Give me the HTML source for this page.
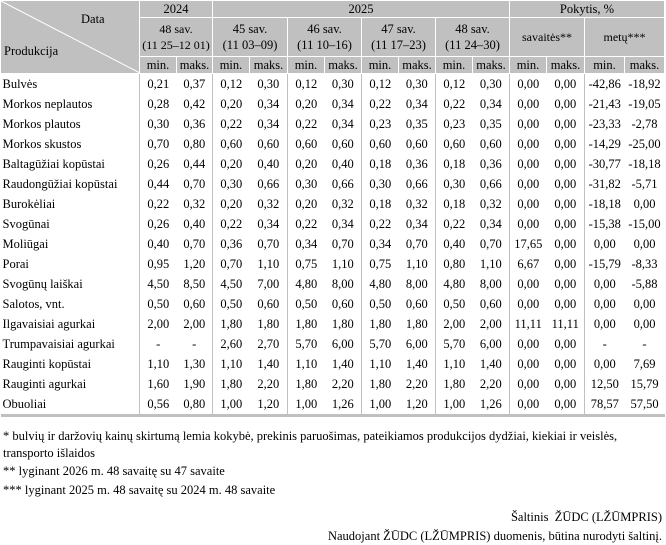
<!DOCTYPE html>
<html><head><meta charset="utf-8"><style>
body{margin:0;width:666px;height:545px;background:#fff;font-family:"Liberation Serif",serif;font-size:12.5px;color:#000;position:relative;overflow:hidden}
table{position:absolute;left:0;top:0;border-collapse:collapse;table-layout:fixed;width:664px}
th{background:#c0c0c0;font-weight:normal;border:1px solid #fff;padding:0;text-align:center;line-height:16px;white-space:nowrap;overflow:hidden;font-size:12.5px}
td{padding:0;height:20px;text-align:center;line-height:20px;white-space:nowrap}
td.l{text-align:left;padding-left:2px}
td.g{border-left:1px solid #c0c0c0}
tr.last td{border-bottom:3px solid #c0c0c0}
.n{position:absolute;left:3px;white-space:nowrap}
.r{position:absolute;right:4px;white-space:nowrap}
</style></head><body>
<table>
<colgroup><col style="width:139px"><col style="width:37px"><col style="width:36px"><col style="width:37px"><col style="width:38px"><col style="width:37px"><col style="width:37px"><col style="width:37px"><col style="width:37px"><col style="width:37px"><col style="width:37px"><col style="width:37px"><col style="width:38px"><col style="width:40px"><col style="width:40px"></colgroup>
<tr style="height:17px"><th rowspan="3" style="position:relative;height:72px">
<svg width="139" height="72" style="position:absolute;left:0;top:0"><line x1="0" y1="0" x2="139" y2="72" stroke="#fff" stroke-width="1"/></svg>
<span style="position:absolute;left:80px;top:10px">Data</span><span style="position:absolute;left:3px;top:42px">Produkcija</span></th>
<th colspan="2">2024</th><th colspan="8">2025</th><th colspan="4">Pokytis, %</th></tr>
<tr style="height:38px"><th colspan="2" style="font-size:12px">48 sav.<br>(11 25–12 01)</th><th colspan="2">45 sav.<br>(11 03–09)</th><th colspan="2">46 sav.<br>(11 10–16)</th><th colspan="2">47 sav.<br>(11 17–23)</th><th colspan="2">48 sav.<br>(11 24–30)</th><th colspan="2" style="font-size:12px">savaitės**</th><th colspan="2" style="font-size:12px">metų***</th></tr>
<tr style="height:17px"><th>min.</th><th>maks.</th><th>min.</th><th>maks.</th><th>min.</th><th>maks.</th><th>min.</th><th>maks.</th><th>min.</th><th>maks.</th><th>min.</th><th>maks.</th><th>min.</th><th>maks.</th></tr>
<tr><td class="l">Bulvės</td><td class="g">0,21</td><td>0,37</td><td class="g">0,12</td><td>0,30</td><td class="g">0,12</td><td>0,30</td><td class="g">0,12</td><td>0,30</td><td class="g">0,12</td><td>0,30</td><td class="g">0,00</td><td>0,00</td><td class="g">-42,86</td><td>-18,92</td></tr>
<tr><td class="l">Morkos neplautos</td><td class="g">0,28</td><td>0,42</td><td class="g">0,20</td><td>0,34</td><td class="g">0,20</td><td>0,34</td><td class="g">0,22</td><td>0,34</td><td class="g">0,22</td><td>0,34</td><td class="g">0,00</td><td>0,00</td><td class="g">-21,43</td><td>-19,05</td></tr>
<tr><td class="l">Morkos plautos</td><td class="g">0,30</td><td>0,36</td><td class="g">0,22</td><td>0,34</td><td class="g">0,22</td><td>0,34</td><td class="g">0,23</td><td>0,35</td><td class="g">0,23</td><td>0,35</td><td class="g">0,00</td><td>0,00</td><td class="g">-23,33</td><td>-2,78</td></tr>
<tr><td class="l">Morkos skustos</td><td class="g">0,70</td><td>0,80</td><td class="g">0,60</td><td>0,60</td><td class="g">0,60</td><td>0,60</td><td class="g">0,60</td><td>0,60</td><td class="g">0,60</td><td>0,60</td><td class="g">0,00</td><td>0,00</td><td class="g">-14,29</td><td>-25,00</td></tr>
<tr><td class="l">Baltagūžiai kopūstai</td><td class="g">0,26</td><td>0,44</td><td class="g">0,20</td><td>0,40</td><td class="g">0,20</td><td>0,40</td><td class="g">0,18</td><td>0,36</td><td class="g">0,18</td><td>0,36</td><td class="g">0,00</td><td>0,00</td><td class="g">-30,77</td><td>-18,18</td></tr>
<tr><td class="l">Raudongūžiai kopūstai</td><td class="g">0,44</td><td>0,70</td><td class="g">0,30</td><td>0,66</td><td class="g">0,30</td><td>0,66</td><td class="g">0,30</td><td>0,66</td><td class="g">0,30</td><td>0,66</td><td class="g">0,00</td><td>0,00</td><td class="g">-31,82</td><td>-5,71</td></tr>
<tr><td class="l">Burokėliai</td><td class="g">0,22</td><td>0,32</td><td class="g">0,20</td><td>0,32</td><td class="g">0,20</td><td>0,32</td><td class="g">0,18</td><td>0,32</td><td class="g">0,18</td><td>0,32</td><td class="g">0,00</td><td>0,00</td><td class="g">-18,18</td><td>0,00</td></tr>
<tr><td class="l">Svogūnai</td><td class="g">0,26</td><td>0,40</td><td class="g">0,22</td><td>0,34</td><td class="g">0,22</td><td>0,34</td><td class="g">0,22</td><td>0,34</td><td class="g">0,22</td><td>0,34</td><td class="g">0,00</td><td>0,00</td><td class="g">-15,38</td><td>-15,00</td></tr>
<tr><td class="l">Moliūgai</td><td class="g">0,40</td><td>0,70</td><td class="g">0,36</td><td>0,70</td><td class="g">0,34</td><td>0,70</td><td class="g">0,34</td><td>0,70</td><td class="g">0,40</td><td>0,70</td><td class="g">17,65</td><td>0,00</td><td class="g">0,00</td><td>0,00</td></tr>
<tr><td class="l">Porai</td><td class="g">0,95</td><td>1,20</td><td class="g">0,70</td><td>1,10</td><td class="g">0,75</td><td>1,10</td><td class="g">0,75</td><td>1,10</td><td class="g">0,80</td><td>1,10</td><td class="g">6,67</td><td>0,00</td><td class="g">-15,79</td><td>-8,33</td></tr>
<tr><td class="l">Svogūnų laiškai</td><td class="g">4,50</td><td>8,50</td><td class="g">4,50</td><td>7,00</td><td class="g">4,80</td><td>8,00</td><td class="g">4,80</td><td>8,00</td><td class="g">4,80</td><td>8,00</td><td class="g">0,00</td><td>0,00</td><td class="g">0,00</td><td>-5,88</td></tr>
<tr><td class="l">Salotos, vnt.</td><td class="g">0,50</td><td>0,60</td><td class="g">0,50</td><td>0,60</td><td class="g">0,50</td><td>0,60</td><td class="g">0,50</td><td>0,60</td><td class="g">0,50</td><td>0,60</td><td class="g">0,00</td><td>0,00</td><td class="g">0,00</td><td>0,00</td></tr>
<tr><td class="l">Ilgavaisiai agurkai</td><td class="g">2,00</td><td>2,00</td><td class="g">1,80</td><td>1,80</td><td class="g">1,80</td><td>1,80</td><td class="g">1,80</td><td>1,80</td><td class="g">2,00</td><td>2,00</td><td class="g">11,11</td><td>11,11</td><td class="g">0,00</td><td>0,00</td></tr>
<tr><td class="l">Trumpavaisiai agurkai</td><td class="g">-</td><td>-</td><td class="g">2,60</td><td>2,70</td><td class="g">5,70</td><td>6,00</td><td class="g">5,70</td><td>6,00</td><td class="g">5,70</td><td>6,00</td><td class="g">0,00</td><td>0,00</td><td class="g">-</td><td>-</td></tr>
<tr><td class="l">Rauginti kopūstai</td><td class="g">1,10</td><td>1,30</td><td class="g">1,10</td><td>1,40</td><td class="g">1,10</td><td>1,40</td><td class="g">1,10</td><td>1,40</td><td class="g">1,10</td><td>1,40</td><td class="g">0,00</td><td>0,00</td><td class="g">0,00</td><td>7,69</td></tr>
<tr><td class="l">Rauginti agurkai</td><td class="g">1,60</td><td>1,90</td><td class="g">1,80</td><td>2,20</td><td class="g">1,80</td><td>2,20</td><td class="g">1,80</td><td>2,20</td><td class="g">1,80</td><td>2,20</td><td class="g">0,00</td><td>0,00</td><td class="g">12,50</td><td>15,79</td></tr>
<tr class="last"><td class="l">Obuoliai</td><td class="g">0,56</td><td>0,80</td><td class="g">1,00</td><td>1,20</td><td class="g">1,00</td><td>1,26</td><td class="g">1,00</td><td>1,20</td><td class="g">1,00</td><td>1,26</td><td class="g">0,00</td><td>0,00</td><td class="g">78,57</td><td>57,50</td></tr>
</table>
<div class="n" style="top:429px">* bulvių ir daržovių kainų skirtumą lemia kokybė, prekinis paruošimas, pateikiamos produkcijos dydžiai, kiekiai ir veislės,</div>
<div class="n" style="top:446px">transporto išlaidos</div>
<div class="n" style="top:464px">** lyginant 2026 m. 48 savaitę su 47 savaite</div>
<div class="n" style="top:483px">*** lyginant 2025 m. 48 savaitę su 2024 m. 48 savaite</div>
<div class="r" style="top:510px">Šaltinis&nbsp; ŽŪDC (LŽŪMPRIS)</div>
<div class="r" style="top:529px">Naudojant ŽŪDC (LŽŪMPRIS) duomenis, būtina nurodyti šaltinį.</div>
</body></html>
